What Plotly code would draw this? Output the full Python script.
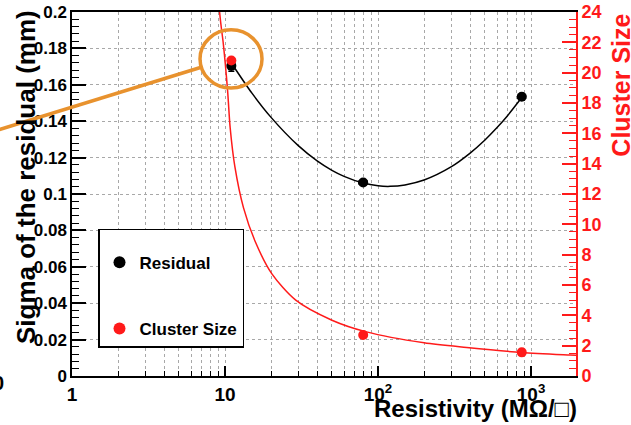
import plotly.graph_objects as go

# ---- data ----
resistivity = [11, 80, 870]
residual = [0.1704, 0.1063, 0.1534]
residual_err_y = [0.003, 0.0012, 0.0012]
residual_err_x = [0.6, 5, 50]
cluster_size = [20.8, 2.70, 1.56]

# fitted curves
res_fit_x = [11, 15, 20, 30, 40, 50, 60, 80, 100, 120, 150, 200, 300, 400, 500, 600, 700, 870]
res_fit_y = [0.172, 0.1554, 0.1421, 0.1267, 0.1182, 0.1130, 0.1097, 0.1060, 0.1045, 0.1042,
             0.1050, 0.1077, 0.1149, 0.1225, 0.1297, 0.1365, 0.1429, 0.1530]
cs_fit_x = [9.0, 9.4, 9.75, 10.4, 10.8, 11.6, 13.2, 15.7, 20.2, 29, 50, 84, 200, 380, 870, 1800, 1980]
cs_fit_y = [25.0, 23.2, 21.9, 18.8, 16.4, 13.8, 11.1, 8.9, 6.75, 5.0, 3.68, 2.91, 2.19, 1.88, 1.55, 1.38, 1.36]

x_tickvals = [1, 10, 100, 1000]
x_ticktext = ["1", "10", "10<sup>2</sup>", "10<sup>3</sup>"]
x_minorvals = [2, 3, 4, 5, 6, 7, 8, 9, 20, 30, 40, 50, 60, 70, 80, 90,
               200, 300, 400, 500, 600, 700, 800, 900, 2000]

RED = "#ff1a1a"
ORANGE = "#e8922e"
FONT = "Liberation Sans"
GRID = "#a8a8a8"

fig = go.Figure()

fig.add_trace(go.Scatter(x=cs_fit_x, y=cs_fit_y, mode="lines", yaxis="y2",
                         line=dict(color=RED, width=1.5, shape="spline", smoothing=0.8),
                         showlegend=False, hoverinfo="skip"))
fig.add_trace(go.Scatter(x=res_fit_x, y=res_fit_y, mode="lines",
                         line=dict(color="black", width=1.5, shape="spline", smoothing=0.8),
                         showlegend=False, hoverinfo="skip"))
fig.add_trace(go.Scatter(x=resistivity, y=cluster_size, mode="markers", yaxis="y2",
                         name="Cluster Size", legendgroup="b", legendrank=2,
                         marker=dict(color=RED, size=10)))
fig.add_trace(go.Scatter(x=resistivity, y=residual, mode="markers",
                         name="Residual", legendgroup="a", legendrank=1,
                         marker=dict(color="black", size=10),
                         error_y=dict(type="data", array=residual_err_y, color="black", thickness=1.5, width=3),
                         error_x=dict(type="data", array=residual_err_x, color="black", thickness=1.5, width=2)))

fig.update_layout(
    width=631, height=425,
    margin=dict(l=72, r=55, t=12, b=49, autoexpand=False),
    paper_bgcolor="white", plot_bgcolor="white",
    font=dict(family=FONT, color="black"),
    xaxis=dict(
        type="log", range=[0, 3.294], automargin=False,
        tickmode="array", tickvals=x_tickvals, ticktext=x_ticktext,
        ticks="inside", ticklen=10, tickwidth=1.5, tickcolor="black",
        tickfont=dict(family=FONT, size=19, weight="bold"),
        showgrid=True, gridcolor=GRID, griddash="dot", gridwidth=1,
        showline=True, linecolor="black", linewidth=1.5, mirror=True,
        zeroline=False,
        minor=dict(tickmode="array", tickvals=x_minorvals, ticks="inside", ticklen=5,
                   tickwidth=1.2, tickcolor="black",
                   showgrid=True, gridcolor=GRID, griddash="dot", gridwidth=1),
    ),
    yaxis=dict(
        range=[0, 0.2], dtick=0.02, tick0=0, automargin=False,
        ticks="inside", ticklen=14, tickwidth=1.5, tickcolor="black",
        tickfont=dict(family=FONT, size=17, weight="bold"),
        showgrid=True, gridcolor=GRID, griddash="dot", gridwidth=1,
        showline=True, linecolor="black", linewidth=1.5,
        zeroline=False,
        minor=dict(dtick=0.004, ticks="inside", ticklen=7, tickwidth=1.2, tickcolor="black", showgrid=False),
    ),
    yaxis2=dict(
        range=[0, 24], dtick=2, tick0=0, overlaying="y", side="right", automargin=False,
        ticks="inside", ticklen=14, tickwidth=1.5, tickcolor=RED,
        tickfont=dict(family=FONT, size=18, weight="bold", color=RED),
        showgrid=False, zeroline=False,
        showline=True, linecolor=RED, linewidth=2,
        minor=dict(dtick=0.5, ticks="inside", ticklen=7, tickwidth=1.2, tickcolor=RED),
    ),
    legend=dict(
        x=0.0516, y=0.404, xanchor="left", yanchor="top",
        bgcolor="white", bordercolor="black", borderwidth=1.5,
        font=dict(family=FONT, size=17, weight="bold"),
        title=dict(text=" ", font=dict(size=11)),
        tracegroupgap=41, traceorder="grouped",
        itemsizing="constant", itemwidth=30,
    ),
    shapes=[
        dict(type="line", xref="paper", yref="paper", x0=-0.16, y0=0.67, x1=0.258, y1=0.849,
             line=dict(color=ORANGE, width=3.5)),
        dict(type="circle", xref="paper", yref="paper", x0=0.254, x1=0.377, y0=0.791, y1=0.951,
             line=dict(color=ORANGE, width=3.5)),
    ],
    annotations=[
        dict(text="<b>Resistivity (MΩ/□)</b>", xref="paper", yref="paper", x=1.005, y=-0.09,
             xanchor="right", yanchor="middle", showarrow=False, font=dict(family=FONT, size=24)),
        dict(text="<b>Sigma of the residual (mm)</b>", xref="paper", yref="paper",
             x=-0.091, y=0.547, xanchor="center", yanchor="middle", textangle=-90,
             showarrow=False, font=dict(family=FONT, size=26)),
        dict(text="<b>Cluster Size</b>", xref="paper", yref="paper",
             x=1.089, y=0.80, xanchor="center", yanchor="middle", textangle=-90,
             showarrow=False, font=dict(family=FONT, size=25, color=RED)),
        dict(text="<b>0</b>", xref="paper", yref="paper", x=-0.131, y=-0.019,
             xanchor="right", yanchor="middle", showarrow=False, font=dict(family=FONT, size=20)),
    ],
)

# the page body has a default 8px margin; remove it so the figure fills the window
fig.write_html("out.html", config={"displayModeBar": False},
               post_script="document.body.style.margin='0';")
